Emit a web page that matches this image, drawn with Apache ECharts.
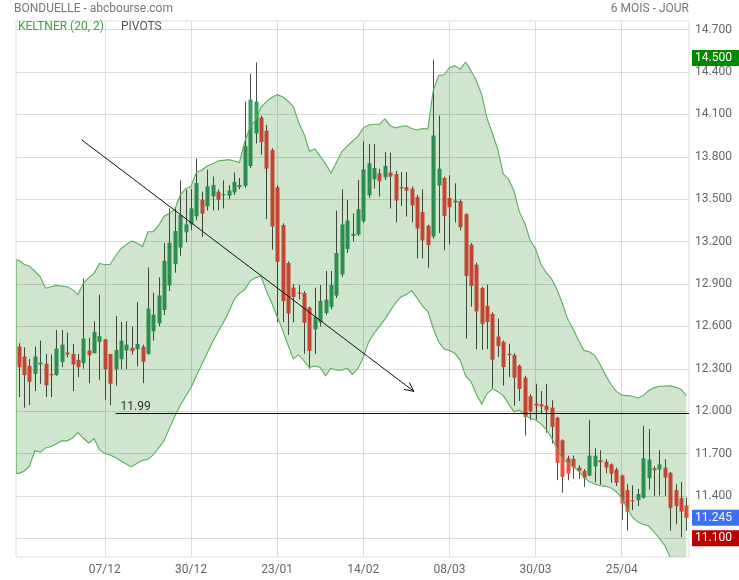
<!DOCTYPE html>
<html><head><meta charset="utf-8">
<script src="https://cdn.jsdelivr.net/npm/echarts@6/dist/echarts.min.js"></script>
<style>html,body{margin:0;padding:0;background:#fff}#c{width:739px;height:580px}</style>
</head><body><div id="c"></div>
<script>
// ---- categories (trading days 15/11/2022 .. 12/05/2023) ----
const dates = [
'15/11','16/11','17/11','18/11','21/11','22/11','23/11','24/11','25/11','28/11','29/11','30/11',
'01/12','02/12','05/12','06/12','07/12','08/12','09/12','12/12','13/12','14/12','15/12','16/12',
'19/12','20/12','21/12','22/12','23/12','27/12','28/12','29/12','30/12',
'02/01','03/01','04/01','05/01','06/01','09/01','10/01','11/01','12/01','13/01','16/01','17/01',
'18/01','19/01','20/01','23/01','24/01','25/01','26/01','27/01','30/01','31/01',
'01/02','02/02','03/02','06/02','07/02','08/02','09/02','10/02','13/02','14/02','15/02','16/02',
'17/02','20/02','21/02','22/02','23/02','24/02','27/02','28/02',
'01/03','02/03','03/03','06/03','07/03','08/03','09/03','10/03','13/03','14/03','15/03','16/03',
'17/03','20/03','21/03','22/03','23/03','24/03','27/03','28/03','29/03','30/03','31/03',
'03/04','04/04','05/04','06/04','11/04','12/04','13/04','14/04','17/04','18/04','19/04','20/04',
'21/04','24/04','25/04','26/04','27/04','28/04',
'02/05','03/05','04/05','05/05','08/05','09/05','10/05','11/05','12/05'
];
const tickLabels = ['07/12','30/12','23/01','14/02','08/03','30/03','25/04'];
const yTicks = [11.1,11.4,11.7,12.0,12.3,12.6,12.9,13.2,13.5,13.8,14.1,14.4,14.7];

// ---- OHLC ----
const opens = [
12.457,12.387,12.321,12.264,12.330,12.335,12.262,12.255,12.349,12.415,
12.405,12.363,12.339,12.429,12.410,12.490,12.509,12.405,12.297,12.368,
12.429,12.448,12.438,12.457,12.405,12.565,12.622,12.716,12.890,13.040,
13.158,13.266,13.322,13.379,13.496,13.449,13.520,13.553,13.530,13.525,
13.548,13.586,13.594,13.735,13.965,14.078,13.984,13.848,13.584,13.316,
13.048,12.874,12.840,12.836,12.733,12.578,12.629,12.695,12.738,12.818,
12.968,13.147,13.240,13.250,13.344,13.528,13.641,13.683,13.655,13.688,
13.678,13.586,13.584,13.575,13.514,13.410,13.312,13.236,13.598,13.650,
13.509,13.476,13.486,13.394,13.178,13.036,12.872,12.745,12.688,12.528,
12.491,12.406,12.397,12.321,12.237,12.105,12.053,12.049,12.039,12.025,
11.954,11.794,11.667,11.662,11.601,11.577,11.544,11.610,11.653,11.643,
11.624,11.587,11.544,11.441,11.370,11.370,11.389,11.526,11.596,11.587,
11.601,11.563,11.441,11.384,11.333
];
const closes = [
12.311,12.255,12.208,12.387,12.344,12.184,12.255,12.443,12.471,12.401,
12.330,12.311,12.513,12.396,12.561,12.532,12.297,12.194,12.434,12.499,
12.471,12.424,12.476,12.349,12.725,12.683,12.819,13.064,13.191,13.275,
13.388,13.322,13.435,13.614,13.398,13.591,13.600,13.496,13.536,13.562,
13.623,13.600,13.876,14.205,14.191,13.904,13.716,13.307,13.057,12.780,
12.691,12.808,12.832,12.625,12.427,12.667,12.780,12.789,12.893,13.119,
13.321,13.349,13.255,13.429,13.711,13.754,13.721,13.627,13.735,13.660,
13.490,13.582,13.561,13.457,13.293,13.208,13.175,13.951,13.716,13.382,
13.443,13.490,13.302,12.956,12.886,12.707,12.618,12.632,12.364,12.462,
12.312,12.397,12.237,12.157,11.959,12.001,12.039,12.034,12.006,11.889,
11.635,11.535,11.558,11.601,11.577,11.526,11.685,11.685,11.638,11.601,
11.558,11.493,11.347,11.290,11.361,11.413,11.667,11.657,11.582,11.624,
11.530,11.314,11.328,11.290,11.245
];
const highs = [
12.481,12.452,12.370,12.457,12.499,12.405,12.401,12.575,12.575,12.556,
12.476,12.405,12.937,12.520,12.636,12.824,12.509,12.405,12.673,12.631,
12.636,12.598,12.772,12.470,13.017,12.838,12.946,13.191,13.435,13.445,
13.633,13.567,13.572,13.788,13.553,13.708,13.661,13.570,13.633,13.600,
13.689,13.650,14.191,14.389,14.468,14.090,14.026,13.860,13.600,13.330,
13.060,12.898,12.893,12.850,12.740,12.874,12.893,12.992,12.992,13.420,
13.570,13.495,13.400,13.636,13.909,13.890,13.890,13.716,13.834,13.829,
13.700,13.692,13.692,13.590,13.530,13.570,13.320,14.487,14.092,13.660,
13.669,13.613,13.500,13.400,13.190,13.050,12.880,12.895,12.700,12.655,
12.500,12.477,12.410,12.330,12.250,12.120,12.194,12.142,12.194,12.077,
11.960,11.800,11.685,11.685,11.617,11.590,11.939,11.737,11.723,11.660,
11.630,11.600,11.550,11.483,11.474,11.450,11.897,11.874,11.610,11.723,
11.660,11.570,11.483,11.497,11.389
];
const lows = [
12.100,12.024,12.043,12.142,12.194,12.100,12.100,12.250,12.311,12.380,
12.142,12.241,12.300,12.198,12.410,12.222,12.081,12.043,12.180,12.297,
12.297,12.400,12.316,12.198,12.400,12.499,12.600,12.680,12.850,12.980,
13.100,13.195,13.280,13.350,13.233,13.420,13.421,13.421,13.435,13.500,
13.530,13.570,13.580,13.720,13.895,13.815,13.359,13.142,12.629,12.629,
12.540,12.629,12.790,12.406,12.300,12.404,12.600,12.680,12.720,12.800,
12.950,13.120,13.200,13.240,13.330,13.510,13.575,13.518,13.636,13.434,
13.335,13.453,13.377,13.335,13.081,13.081,13.015,13.220,13.260,13.138,
13.180,13.335,13.280,12.514,12.740,12.439,12.434,12.439,12.161,12.383,
12.180,12.241,12.039,12.072,11.827,11.936,11.940,11.980,11.846,11.771,
11.512,11.422,11.511,11.521,11.521,11.464,11.540,11.497,11.480,11.560,
11.493,11.470,11.229,11.154,11.300,11.330,11.380,11.446,11.400,11.403,
11.400,11.154,11.200,11.107,11.154
];
// ---- Keltner (20, 2) bands ----
const upperBand = [
13.07,13.04,13.025,12.99,12.95,12.87,12.88,12.89,12.885,12.88,
12.86,12.825,12.905,12.945,12.975,13.045,13.036,13.04,13.10,13.15,
13.18,13.205,13.19,13.165,13.27,13.27,13.315,13.38,13.40,13.43,
13.53,13.575,13.59,13.69,13.705,13.735,13.75,13.77,13.775,13.78,
13.77,13.76,13.91,14.01,14.06,14.15,14.19,14.22,14.24,14.225,
14.195,14.158,14.045,13.96,13.84,13.855,13.805,13.75,13.685,13.76,
13.835,13.875,13.91,13.945,14.005,14.025,14.03,14.03,14.068,14.02,
14.005,14.015,14.02,14.00,13.99,14.00,13.998,14.27,14.375,14.38,
14.43,14.445,14.42,14.47,14.41,14.34,14.24,14.07,13.965,13.85,
13.68,13.64,13.56,13.41,13.33,13.21,13.15,13.04,12.98,12.935,
12.86,12.76,12.65,12.58,12.50,12.43,12.421,12.395,12.33,12.255,
12.19,12.14,12.114,12.11,12.105,12.093,12.11,12.146,12.165,12.176,
12.178,12.179,12.17,12.156,12.11
];
const lowerBand = [
11.56,11.575,11.61,11.72,11.71,11.74,11.75,11.77,11.79,11.79,
11.81,11.848,11.81,11.775,11.805,11.727,11.70,11.69,11.67,11.648,
11.625,11.607,11.632,11.652,11.659,11.69,11.74,11.79,11.88,11.963,
12.04,12.105,12.165,12.25,12.33,12.41,12.49,12.56,12.625,12.70,
12.79,12.835,12.86,12.92,12.945,12.955,12.85,12.765,12.67,12.575,
12.47,12.37,12.40,12.355,12.31,12.32,12.31,12.25,12.305,12.29,
12.29,12.305,12.26,12.30,12.38,12.49,12.55,12.60,12.65,12.71,
12.765,12.808,12.825,12.853,12.80,12.745,12.705,12.585,12.49,12.44,
12.43,12.41,12.36,12.25,12.21,12.12,12.05,12.125,12.158,12.138,
12.11,12.05,11.995,12.008,11.97,11.95,11.937,11.91,11.87,11.81,
11.735,11.66,11.635,11.61,11.575,11.532,11.50,11.484,11.472,11.468,
11.457,11.43,11.385,11.311,11.25,11.215,11.20,11.187,11.145,11.10,
11.05,10.965,10.92,10.89,10.86
];
// ---- annotations ----
const pivotLevel = 11.99;
const pivotStartIndex = 18;          // 09/12
const trendStart = [11.7, 13.92];    // [category index, price]
const trendEnd = [73.4, 12.14];
const highMark = 14.5, lastMark = 11.245, lowMark = 11.1;

const GREEN = '#369d63', RED = '#f24e3e', WICK = '#4d4d4d';
const FONT = 'Roboto, "Noto Sans", sans-serif';

const chart = echarts.init(document.getElementById('c'), null, {renderer: 'canvas'});

function xAt(api, idx) {
  const x0 = api.coord([0, 12])[0];
  return x0 + idx * api.size([1, 0])[0];
}
function yAt(api, v) { return api.coord([0, v])[1]; }
function bandPoints(api, cs) {
  const up = upperBand.map((v, i) => [xAt(api, i), yAt(api, v)]);
  const lo = lowerBand.map((v, i) => [xAt(api, i), yAt(api, v)]);
  up.unshift([cs.x, up[0][1]]);
  lo.unshift([cs.x, lo[0][1]]);
  return {up, lo};
}

const option = {
  backgroundColor: '#ffffff',
  animation: false,
  textStyle: {fontFamily: FONT},
  grid: {left: 16, right: 50, top: 21, bottom: 23, show: true, borderColor: '#dcdcdc', borderWidth: 1, containLabel: false},
  graphic: [
    {type: 'text', left: 14, top: 3, style: {text: 'BONDUELLE - abcbourse.com', fill: '#777', font: '12px ' + FONT}},
    {type: 'text', right: 50, top: 3, style: {text: '6 MOIS - JOUR', fill: '#777', font: '12px ' + FONT}},
    {type: 'text', left: 18, top: 21, z: 100, style: {text: 'KELTNER (20, 2)', fill: '#3f9f42', font: '12px ' + FONT}},
    {type: 'text', left: 121, top: 21, z: 100, style: {text: 'PIVOTS', fill: '#555', font: '12px ' + FONT}}
  ],
  xAxis: {
    type: 'category', data: dates, boundaryGap: true,
    axisLine: {show: false}, axisTick: {show: false},
    axisLabel: {interval: (i, v) => tickLabels.includes(v), color: '#666', fontSize: 12, margin: 7, fontFamily: FONT},
    splitLine: {show: true, alignWithLabel: true, interval: (i, v) => tickLabels.includes(v), lineStyle: {color: '#dcdcdc', width: 1}}
  },
  yAxis: {
    type: 'value', position: 'right', min: 10.968, max: 14.761, scale: true,
    axisLine: {show: false},
    axisTick: {show: false, customValues: yTicks},
    axisLabel: {customValues: yTicks, formatter: v => v.toFixed(3), color: '#666', fontSize: 12, margin: 6, padding: [0, 0, 5, 0], fontFamily: FONT},
    splitLine: {show: true, lineStyle: {color: '#dcdcdc', width: 1}}
  },
  series: [
    {
      type: 'custom', name: 'candles', z: 2,
      data: dates.map((d, i) => [i, opens[i], closes[i], lows[i], highs[i]]),
      encode: {x: 0, y: [1, 2, 3, 4]},
      renderItem: function (params, api) {
        const i = api.value(0), o = api.value(1), c = api.value(2), l = api.value(3), h = api.value(4);
        const cx = Math.round(api.coord([i, o])[0]);
        const yO = api.coord([i, o])[1], yC = api.coord([i, c])[1];
        const yL = api.coord([i, l])[1], yH = api.coord([i, h])[1];
        const top = Math.min(yO, yC), bot = Math.max(yO, yC);
        const up = c >= o;
        return {type: 'group', children: [
          {type: 'line', shape: {x1: cx + 0.5, y1: yH, x2: cx + 0.5, y2: yL}, style: {stroke: WICK, lineWidth: 1}},
          {type: 'rect', shape: {x: cx - 1.5, y: top, width: 4, height: Math.max(bot - top, 1.2)}, style: {fill: up ? GREEN : RED}}
        ]};
      }
    },
    {
      type: 'custom', name: 'keltnerFill', z: 3, clip: true, blendMode: 'multiply',
      data: [[0, upperBand[0]]],
      encode: {x: 0, y: 1},
      renderItem: function (params, api) {
        const b = bandPoints(api, params.coordSys);
        return {type: 'polygon', shape: {points: b.up.concat(b.lo.slice().reverse())}, style: {fill: '#cfe5cd'}};
      }
    },
    {
      type: 'custom', name: 'keltnerLines', z: 4, clip: true,
      data: [[0, upperBand[0]]],
      encode: {x: 0, y: 1},
      renderItem: function (params, api) {
        const b = bandPoints(api, params.coordSys);
        return {type: 'group', children: [
          {type: 'polyline', shape: {points: [b.lo[0]].concat(b.up)}, style: {stroke: '#5aae5c', lineWidth: 1.1, fill: null}},
          {type: 'polyline', shape: {points: b.lo}, style: {stroke: '#5aae5c', lineWidth: 1.1, fill: null}}
        ]};
      }
    },
    {
      type: 'custom', name: 'annotations', z: 5, clip: false,
      data: [[0, pivotLevel]],
      encode: {x: 0, y: 1},
      renderItem: function (params, api) {
        const cs = params.coordSys;
        const right = cs.x + cs.width;
        const sx = xAt(api, trendStart[0]), sy = yAt(api, trendStart[1]);
        const ex = xAt(api, trendEnd[0]), ey = yAt(api, trendEnd[1]);
        const ang = Math.atan2(ey - sy, ex - sx);
        const L = 10, a = 0.45;
        const h1 = [ex - L * Math.cos(ang - a), ey - L * Math.sin(ang - a)];
        const h2 = [ex - L * Math.cos(ang + a), ey - L * Math.sin(ang + a)];
        const py = Math.round(yAt(api, pivotLevel)) + 0.5;
        const px = xAt(api, pivotStartIndex);
        function box(v, color) {
          const y = yAt(api, v);
          return [
            {type: 'rect', shape: {x: right + 3, y: y - 8, width: 60, height: 16}, style: {fill: color}},
            {type: 'text', x: right + 6, y: y, style: {text: v.toFixed(3), fill: '#fff', font: '12px ' + FONT, align: 'left', verticalAlign: 'middle'}}
          ];
        }
        return {type: 'group', children: [
          {type: 'line', shape: {x1: sx, y1: sy, x2: ex, y2: ey}, style: {stroke: '#111', lineWidth: 1}},
          {type: 'polyline', shape: {points: [h1, [ex, ey], h2]}, style: {stroke: '#111', lineWidth: 1, fill: null}},
          {type: 'line', shape: {x1: px, y1: py, x2: right, y2: py}, style: {stroke: '#111', lineWidth: 1}},
          {type: 'text', x: px + 5, y: py - 7, style: {text: pivotLevel.toFixed(2), fill: '#333', font: '12px ' + FONT, align: 'left', verticalAlign: 'middle'}}
        ].concat(box(highMark, '#008a00'), box(lastMark, '#3d6ef6'), box(lowMark, '#bb0000'))};
      }
    }
  ]
};
chart.setOption(option);
</script>
</body></html>
